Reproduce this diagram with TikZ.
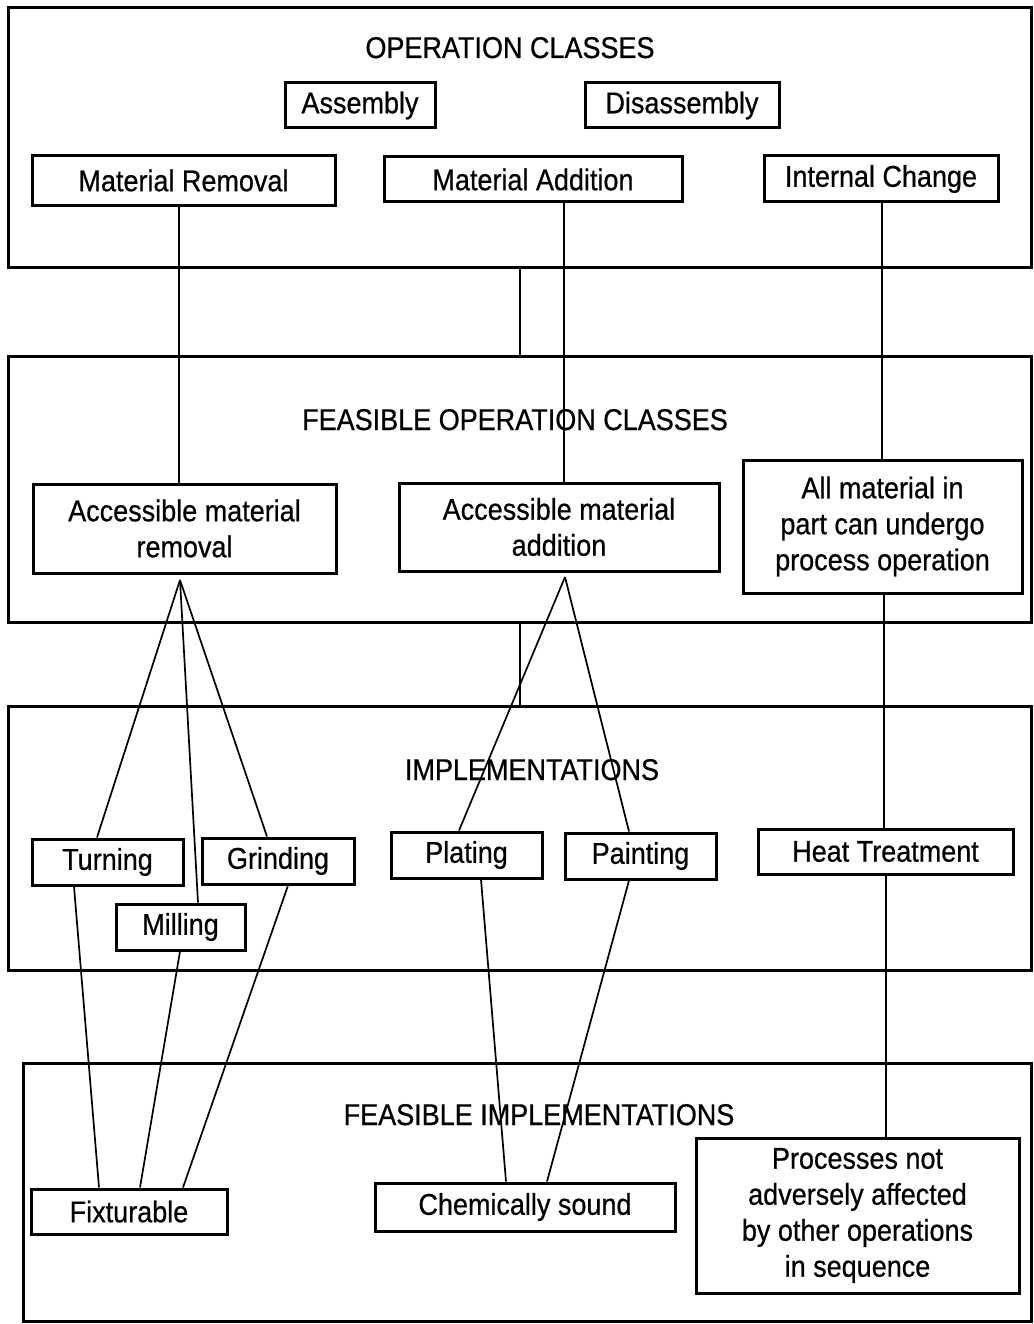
\documentclass[tikz,border=0pt]{standalone}
\usepackage{fontspec}
\setmainfont{Liberation Sans}[FakeStretch=0.9,FakeBold=0.6]
\newcommand\diagfont{\fontsize{30}{36}\selectfont}
\begin{document}
\begin{tikzpicture}[x=1pt,y=-1pt,
  frame/.style={draw, line width=3pt, inner sep=0pt},
  box/.style={draw, line width=3pt, inner sep=0pt, align=center, font=\diagfont},
  title/.style={font=\diagfont, inner sep=0pt, anchor=base},
  conn/.style={line width=1.7pt},
  link/.style={line width=2.2pt}]
\useasboundingbox[fill=white] (0,0) rectangle (1033,1324);

% frames
\node[frame, minimum width=1023, minimum height=259] (f1) at (519.5,137.5) {};
\node[frame, minimum width=1023, minimum height=266] (f2) at (519.5,489) {};
\node[frame, minimum width=1023, minimum height=264] (f3) at (519.5,838) {};
\node[frame, minimum width=1008, minimum height=258] (f4) at (527,1192) {};

% titles
\node[title] (t1) at (510,58) {OPERATION CLASSES};
\node[title] (t2) at (515,430) {FEASIBLE OPERATION CLASSES};
\node[title] (t3) at (532,780) {IMPLEMENTATIONS};
\node[title] (t4) at (539,1125) {FEASIBLE IMPLEMENTATIONS};

% operation classes
\node[box, minimum width=150, minimum height=45] (asm) at (360,105.5) {Assembly};
\node[box, minimum width=194, minimum height=45] (dis) at (682,105.5) {Disassembly};
\node[box, minimum width=303, minimum height=50] (mr) at (183.5,180.5) {Material Removal};
\node[box, minimum width=298, minimum height=45] (ma) at (533,179.5) {Material Addition};
\node[box, minimum width=234, minimum height=46] (ic) at (881,179) {Internal Change};

% feasible operation classes
\node[box, minimum width=303, minimum height=89] (amr) at (184.5,528.5) {Accessible material\\removal};
\node[box, minimum width=320, minimum height=88] (ama) at (559,527) {Accessible material\\addition};
\node[box, minimum width=279, minimum height=133] (am) at (882.5,526.5) {All material in\\part can undergo\\process operation};

% implementations
\node[box, minimum width=151, minimum height=46] (turn) at (107.5,862) {Turning};
\node[box, minimum width=152, minimum height=46] (grind) at (278,861) {Grinding};
\node[box, minimum width=129, minimum height=46] (mill) at (180.5,927) {Milling};
\node[box, minimum width=151, minimum height=46] (plat) at (466.5,855) {Plating};
\node[box, minimum width=151, minimum height=46] (paint) at (640.5,856) {Painting};
\node[box, minimum width=255, minimum height=45] (heat) at (885.5,851.5) {Heat Treatment};

% feasible implementations
\node[box, minimum width=196, minimum height=45] (fix) at (129,1211.5) {Fixturable};
\node[box, minimum width=300, minimum height=48] (chem) at (525,1207) {Chemically sound};
\node[box, minimum width=323, minimum height=155] (proc) at (857.5,1215.5) {Processes not\\adversely affected\\by other operations\\in sequence};

% frame links
\draw[link] (f1.south -| 520,0) -- (f2.north -| 520,0);
\draw[link] (f2.south -| 520,0) -- (f3.north -| 520,0);

% class to feasible class
\draw[conn] (mr.south -| 179,0) -- (amr.north -| 179,0);
\draw[conn] (ma.south -| 564,0) -- (ama.north -| 564,0);
\draw[conn] (ic.south -| 882,0) -- (am.north -| 882,0);

% apexes
\coordinate (ar) at (180,580);
\coordinate (aa) at (565,577);
\draw[conn] (ar) -- (turn.north -| 97,0);
\draw[conn] (ar) -- (mill.north -| 198,0);
\draw[conn] (ar) -- (grind.north -| 267,0);
\draw[conn] (aa) -- (plat.north -| 459,0);
\draw[conn] (aa) -- (paint.north -| 629,0);
\draw[conn] (am.south -| 884,0) -- (heat.north -| 884,0);

% implementations to feasible implementations
\draw[conn] (turn.south -| 74,0) -- (fix.north -| 99,0);
\draw[conn] (mill.south -| 180,0) -- (fix.north -| 140,0);
\draw[conn] (grind.south -| 288,0) -- (fix.north -| 183,0);
\draw[conn] (plat.south -| 481,0) -- (chem.north -| 506,0);
\draw[conn] (paint.south -| 629,0) -- (chem.north -| 547,0);
\draw[conn] (heat.south -| 886,0) -- (proc.north -| 886,0);
\end{tikzpicture}
\end{document}
